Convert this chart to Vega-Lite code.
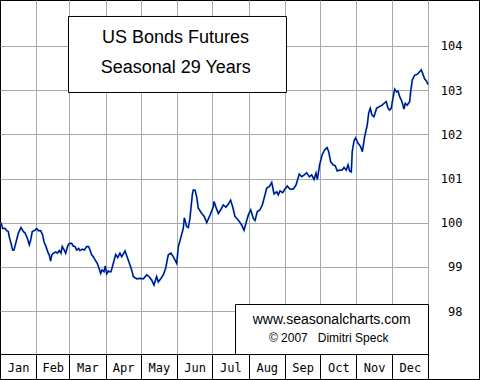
{
  "$schema": "https://vega.github.io/schema/vega-lite/v6.json",
  "width": 480,
  "height": 380,
  "autosize": {"type": "none"},
  "padding": 0,
  "background": "#ffffff",
  "config": {"view": {"stroke": "#000000", "strokeWidth": 2}},
  "data": {"values": [
    {"day":0.9,"value":100.00},{"day":2.3,"value":99.87},{"day":4.3,"value":99.87},{"day":5.7,"value":99.82},{"day":7.1,"value":99.80},{"day":7.9,"value":99.68},{"day":9.4,"value":99.53},{"day":10.8,"value":99.38},{"day":11.9,"value":99.38},{"day":13.4,"value":99.53},{"day":15.6,"value":99.76},{"day":17.9,"value":99.89},{"day":19.9,"value":99.80},{"day":21.3,"value":99.77},{"day":23.3,"value":99.65},{"day":25.0,"value":99.50},{"day":26.2,"value":99.61},{"day":27.5,"value":99.80},{"day":29.8,"value":99.83},{"day":31.3,"value":99.87},{"day":32.7,"value":99.82},{"day":34.7,"value":99.82},{"day":36.4,"value":99.72},{"day":37.5,"value":99.57},{"day":39.2,"value":99.46},{"day":40.7,"value":99.34},{"day":42.0,"value":99.27},{"day":43.2,"value":99.13},{"day":44.1,"value":99.27},{"day":45.5,"value":99.31},{"day":47.5,"value":99.34},{"day":48.9,"value":99.31},{"day":50.6,"value":99.37},{"day":52.0,"value":99.31},{"day":53.1,"value":99.46},{"day":54.8,"value":99.38},{"day":56.0,"value":99.31},{"day":57.7,"value":99.47},{"day":59.1,"value":99.53},{"day":61.1,"value":99.53},{"day":62.5,"value":99.47},{"day":64.0,"value":99.46},{"day":65.4,"value":99.38},{"day":67.1,"value":99.42},{"day":68.2,"value":99.37},{"day":70.2,"value":99.40},{"day":71.9,"value":99.38},{"day":73.9,"value":99.46},{"day":75.6,"value":99.46},{"day":76.8,"value":99.38},{"day":78.2,"value":99.27},{"day":79.6,"value":99.23},{"day":81.0,"value":99.16},{"day":83.0,"value":99.08},{"day":84.4,"value":98.97},{"day":85.9,"value":98.85},{"day":87.0,"value":98.93},{"day":88.7,"value":98.89},{"day":89.8,"value":99.02},{"day":91.0,"value":98.84},{"day":92.4,"value":98.91},{"day":93.2,"value":98.89},{"day":94.7,"value":98.89},{"day":96.6,"value":99.08},{"day":98.7,"value":99.28},{"day":100.4,"value":99.21},{"day":102.3,"value":99.31},{"day":103.8,"value":99.23},{"day":106.6,"value":99.36},{"day":108.9,"value":99.19},{"day":110.9,"value":99.04},{"day":112.3,"value":98.93},{"day":113.7,"value":98.78},{"day":116.6,"value":98.73},{"day":119.4,"value":98.74},{"day":122.2,"value":98.73},{"day":125.1,"value":98.82},{"day":127.1,"value":98.78},{"day":129.4,"value":98.70},{"day":131.3,"value":98.59},{"day":133.6,"value":98.78},{"day":135.0,"value":98.66},{"day":137.3,"value":98.74},{"day":139.3,"value":98.82},{"day":141.3,"value":98.97},{"day":143.5,"value":99.27},{"day":145.8,"value":99.31},{"day":147.8,"value":99.23},{"day":150.7,"value":99.08},{"day":152.1,"value":99.46},{"day":154.4,"value":99.68},{"day":156.3,"value":99.87},{"day":157.2,"value":100.11},{"day":159.2,"value":99.91},{"day":160.6,"value":99.89},{"day":162.0,"value":100.10},{"day":164.0,"value":100.63},{"day":164.8,"value":100.74},{"day":166.3,"value":100.74},{"day":167.7,"value":100.59},{"day":169.1,"value":100.33},{"day":172.0,"value":100.21},{"day":174.2,"value":100.14},{"day":176.3,"value":100.00},{"day":179.1,"value":100.17},{"day":181.9,"value":100.36},{"day":182.5,"value":100.48},{"day":184.2,"value":100.35},{"day":186.2,"value":100.21},{"day":188.2,"value":100.29},{"day":190.4,"value":100.40},{"day":192.7,"value":100.35},{"day":194.7,"value":100.42},{"day":196.7,"value":100.51},{"day":198.4,"value":100.36},{"day":200.4,"value":100.14},{"day":203.2,"value":100.06},{"day":206.1,"value":99.95},{"day":208.1,"value":99.83},{"day":209.8,"value":99.99},{"day":211.7,"value":100.17},{"day":213.8,"value":100.29},{"day":216.0,"value":100.10},{"day":217.5,"value":100.05},{"day":219.4,"value":100.25},{"day":221.7,"value":100.29},{"day":223.7,"value":100.40},{"day":226.0,"value":100.63},{"day":227.4,"value":100.78},{"day":229.7,"value":100.82},{"day":231.7,"value":100.91},{"day":233.7,"value":100.65},{"day":236.0,"value":100.70},{"day":237.3,"value":100.63},{"day":238.8,"value":100.72},{"day":241.1,"value":100.68},{"day":243.0,"value":100.76},{"day":245.0,"value":100.83},{"day":247.3,"value":100.76},{"day":250.1,"value":100.76},{"day":252.4,"value":100.85},{"day":255.2,"value":101.10},{"day":257.3,"value":101.04},{"day":259.3,"value":101.08},{"day":261.6,"value":101.13},{"day":263.8,"value":101.04},{"day":265.8,"value":101.08},{"day":267.8,"value":100.98},{"day":269.5,"value":101.12},{"day":270.6,"value":100.98},{"day":272.6,"value":101.31},{"day":274.6,"value":101.53},{"day":276.9,"value":101.65},{"day":278.9,"value":101.70},{"day":280.3,"value":101.61},{"day":282.0,"value":101.38},{"day":284.0,"value":101.31},{"day":285.9,"value":101.29},{"day":287.6,"value":101.17},{"day":289.7,"value":101.19},{"day":291.7,"value":101.19},{"day":293.4,"value":101.25},{"day":295.3,"value":101.19},{"day":296.8,"value":101.31},{"day":298.2,"value":101.17},{"day":299.6,"value":101.15},{"day":300.4,"value":101.61},{"day":301.9,"value":101.85},{"day":303.3,"value":101.92},{"day":305.3,"value":101.80},{"day":307.6,"value":101.72},{"day":309.0,"value":101.61},{"day":311.0,"value":101.95},{"day":313.2,"value":102.21},{"day":314.4,"value":102.48},{"day":315.8,"value":102.59},{"day":317.2,"value":102.44},{"day":318.9,"value":102.40},{"day":321.2,"value":102.59},{"day":323.8,"value":102.63},{"day":325.8,"value":102.66},{"day":327.5,"value":102.70},{"day":329.4,"value":102.74},{"day":330.9,"value":102.59},{"day":332.3,"value":102.55},{"day":333.7,"value":102.59},{"day":335.1,"value":102.82},{"day":336.6,"value":103.02},{"day":338.3,"value":102.96},{"day":339.4,"value":102.98},{"day":340.9,"value":102.85},{"day":342.2,"value":102.78},{"day":343.7,"value":102.66},{"day":344.5,"value":102.57},{"day":345.6,"value":102.70},{"day":347.3,"value":102.66},{"day":349.4,"value":102.74},{"day":350.2,"value":102.96},{"day":351.6,"value":103.23},{"day":353.7,"value":103.34},{"day":355.9,"value":103.36},{"day":357.9,"value":103.42},{"day":359.3,"value":103.46},{"day":360.7,"value":103.36},{"day":362.2,"value":103.25},{"day":363.6,"value":103.21},{"day":365.0,"value":103.13}
  ]},
  "layer": [
    {
      "mark": {"type": "line", "color": "#2aa6c8", "strokeWidth": 2, "opacity": 0.8},
      "encoding": {
        "x": {"field": "day", "type": "quantitative", "title": null,
          "scale": {"domain": [0, 409.35], "nice": false, "zero": false},
          "axis": {
            "orient": "bottom", "offset": -26, "title": null, "domain": false,
            "tickCount": 60,
            "values": [0,15.5,31,45,59,74.5,90,105,120,135.5,151,166,181,196.5,212,227.5,243,258,273,288.5,304,319,334,349.5,365],
            "grid": true,
            "gridColor": {"condition": {"test": "datum.value == 0", "value": "#000000"}, "value": "#aaaaaa"},
            "gridOpacity": {"condition": {"test": "indexof([0,31,59,90,120,151,181,212,243,273,304,334,365], datum.value) < 0", "value": 0}, "value": 1},
            "ticks": true, "tickSize": 26, "tickColor": "#000000", "tickWidth": 1,
            "tickOpacity": {"condition": {"test": "indexof([0,31,59,90,120,151,181,212,243,273,304,334,365], datum.value) < 0", "value": 0}, "value": 1},
            "labelExpr": "indexof([15.5,45,74.5,105,135.5,166,196.5,227.5,258,288.5,319,349.5], datum.value) >= 0 ? ['Jan','Feb','Mar','Apr','May','Jun','Jul','Aug','Sep','Oct','Nov','Dec'][indexof([15.5,45,74.5,105,135.5,166,196.5,227.5,258,288.5,319,349.5], datum.value)] : ''",
            "labelPadding": -13, "labelBaseline": "middle", "labelAlign": "center",
            "labelFont": "DejaVu Sans Mono", "labelFontSize": 12, "labelColor": "#000000",
            "labelOverlap": false, "labelFlush": false, "labelBound": false
          }},
        "y": {"field": "value", "type": "quantitative", "title": null,
          "scale": {"domain": [96.44, 105.04], "nice": false, "zero": false},
          "axis": {
            "orient": "left", "title": null, "domain": false, "grid": false,
            "tickCount": 30,
            "values": [97.03, 98, 99, 100, 101, 102, 103, 104],
            "ticks": true, "tickSize": -428, "tickWidth": 1,
            "tickColor": {"condition": {"test": "datum.value < 97.5", "value": "#000000"}, "value": "#aaaaaa"},
            "labelExpr": "datum.value < 97.5 ? '' : format(datum.value, 'd')",
            "labelAlign": "right", "labelBaseline": "middle", "labelPadding": -34,
            "labelFont": "DejaVu Sans Mono", "labelFontSize": 12, "labelColor": "#000000",
            "labelOverlap": false, "labelFlush": false, "labelBound": false
          }}
      }
    },
    {
      "mark": {"type": "line", "color": "#000090", "strokeWidth": 1.2},
      "encoding": {
        "x": {"field": "day", "type": "quantitative", "title": null},
        "y": {"field": "value", "type": "quantitative", "title": null}
      }
    },
    {
      "data": {"values": [{"box": "title"}]},
      "mark": {"type": "rect", "fill": "#ffffff", "stroke": "#000000", "strokeWidth": 1},
      "encoding": {
        "x": {"datum": 58.42, "type": "quantitative", "title": null},
        "x2": {"datum": 244.33},
        "y": {"datum": 104.667, "type": "quantitative", "title": null},
        "y2": {"datum": 102.947}
      }
    },
    {
      "data": {"values": [{"t": "US Bonds Futures"}]},
      "mark": {"type": "text", "font": "Liberation Sans", "fontSize": 18, "color": "#000000", "align": "center", "baseline": "middle"},
      "encoding": {
        "x": {"datum": 149.6, "type": "quantitative", "title": null},
        "y": {"datum": 104.17, "type": "quantitative", "title": null},
        "text": {"field": "t"}
      }
    },
    {
      "data": {"values": [{"t": "Seasonal 29 Years"}]},
      "mark": {"type": "text", "font": "Liberation Sans", "fontSize": 18, "color": "#000000", "align": "center", "baseline": "middle"},
      "encoding": {
        "x": {"datum": 149.9, "type": "quantitative", "title": null},
        "y": {"datum": 103.49, "type": "quantitative", "title": null},
        "text": {"field": "t"}
      }
    },
    {
      "data": {"values": [{"box": "credits"}]},
      "mark": {"type": "rect", "fill": "#ffffff", "stroke": "#000000", "strokeWidth": 1},
      "encoding": {
        "x": {"datum": 200.84, "type": "quantitative", "title": null},
        "x2": {"datum": 365.43},
        "y": {"datum": 98.149, "type": "quantitative", "title": null},
        "y2": {"datum": 97.017}
      }
    },
    {
      "data": {"values": [{"t": "www.seasonalcharts.com"}]},
      "mark": {"type": "text", "font": "Liberation Sans", "fontSize": 14, "color": "#000000", "align": "center", "baseline": "middle"},
      "encoding": {
        "x": {"datum": 282.9, "type": "quantitative", "title": null},
        "y": {"datum": 97.80, "type": "quantitative", "title": null},
        "text": {"field": "t"}
      }
    },
    {
      "data": {"values": [{"t": "© 2007\u00a0\u00a0\u00a0Dimitri Speck"}]},
      "mark": {"type": "text", "font": "Liberation Sans", "fontSize": 12, "color": "#000000", "align": "center", "baseline": "middle"},
      "encoding": {
        "x": {"datum": 280.3, "type": "quantitative", "title": null},
        "y": {"datum": 97.38, "type": "quantitative", "title": null},
        "text": {"field": "t"}
      }
    }
  ]
}
